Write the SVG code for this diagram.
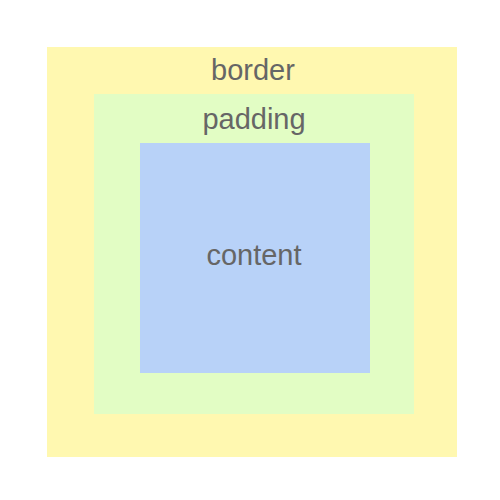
<svg xmlns="http://www.w3.org/2000/svg" width="500" height="500" viewBox="0 0 500 500">
  <style>
    .label { font-family: "Liberation Sans", Arial, sans-serif; font-size: 29px; fill: #666666; text-anchor: middle; }
  </style>
  <rect width="500" height="500" fill="#ffffff"/>
  <g id="border">
    <rect x="47" y="47" width="410" height="410" fill="#fff8b0"/>
    <text class="label" x="253" y="80">border</text>
  </g>
  <g id="padding">
    <rect x="94" y="94" width="320" height="320" fill="#e2fdc4"/>
    <text class="label" x="254" y="129">padding</text>
  </g>
  <g id="content">
    <rect x="140" y="143" width="230" height="230" fill="#b8d2f8"/>
    <text class="label" x="254" y="265">content</text>
  </g>
  <g id="connectors"/>
</svg>
